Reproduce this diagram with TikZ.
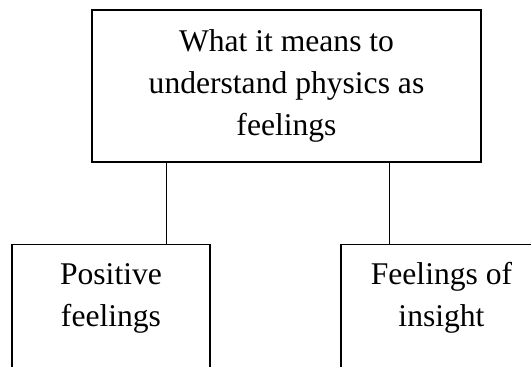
\documentclass[tikz,border=0pt]{standalone}
\usepackage{fontspec}
\setmainfont{Liberation Serif}
\begin{document}
\begin{tikzpicture}[x=1pt,y=-1pt,
  box/.style={draw,line width=1.2pt,inner sep=0pt},
  txt/.style={font=\fontsize{31.6}{42}\selectfont,align=center,inner sep=0pt},
  conn/.style={line width=0.7pt}]
\useasboundingbox (0,0) rectangle (531,367);
\clip (0,0) rectangle (531,367);
\node[box,txt,minimum width=389pt,minimum height=152pt] (top) at (286.5,86) {What it means to\\understand physics as\\feelings};
\node[box,minimum width=198pt,minimum height=200pt,anchor=north] (left) at (111,244) {};
\node[box,minimum width=201pt,minimum height=200pt,anchor=north] (right) at (441.5,244) {};
\node[txt] (ltext) at (111,298) {Positive\\feelings};
\node[txt] (rtext) at (441.5,298) {Feelings of\\insight};
\coordinate (c1) at (166,244);
\coordinate (c2) at (389.5,244);
\draw[conn] (top.south -| c1) -- (c1);
\draw[conn] (top.south -| c2) -- (c2);
\end{tikzpicture}
\end{document}
